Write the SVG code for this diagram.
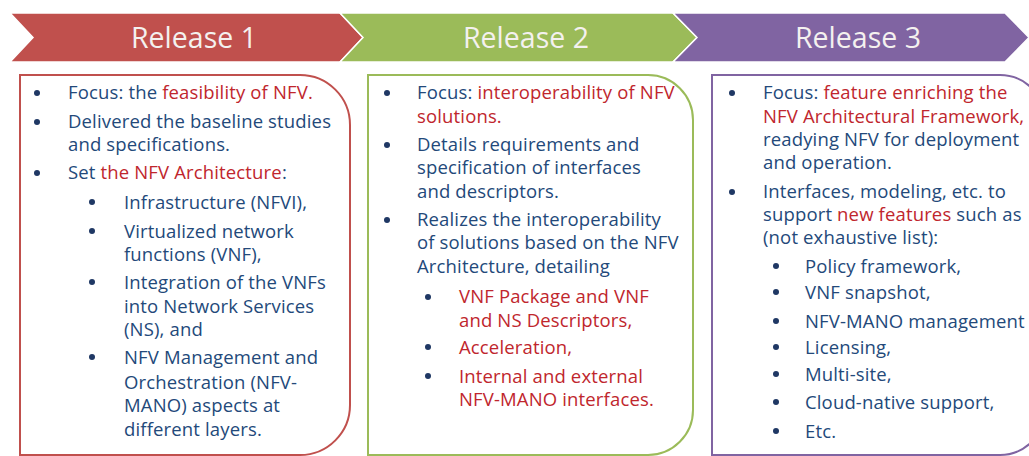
<svg xmlns="http://www.w3.org/2000/svg" width="1029" height="456" viewBox="0 0 1029 456">
  <style>
    .hdr { font-family: "Open Sans", "Liberation Sans", sans-serif; font-size: 28.5px; fill: #F4F1EF; text-anchor: middle; }
    .t { font-family: "Open Sans", "Liberation Sans", sans-serif; font-size: 18.5px; letter-spacing: 0.15px; fill: #23497A; }
    .r { fill: #C0262D; }
    .dot { fill: #1F3864; }
    .box { fill: #FFFFFF; stroke-width: 2; }
  </style>
  <defs>
    <circle id="b" r="3" class="dot"/>
  </defs>
  <rect width="1029" height="456" fill="#FFFFFF"/>

  <!-- Release 1 -->
  <g id="release1">
    <path d="M10,13 H340 L363,37.5 L340,62 H10 L33,37.5 Z" fill="#C0504D" stroke="#FFFFFF" stroke-width="1.5"/>
    <text class="hdr" x="194" y="48">Release 1</text>
    <path class="box" stroke="#C0504D" d="M20,75 H300 A50,50 0 0 1 350,125 V405 A50,50 0 0 1 300,455 H20 Z"/>
    <use href="#b" x="37" y="93"/>
    <text class="t" x="68" y="99">Focus: the <tspan class="r">feasibility of NFV.</tspan></text>
    <use href="#b" x="37" y="122"/>
    <text class="t" x="68" y="128">Delivered the baseline studies</text>
    <text class="t" x="68" y="151">and specifications.</text>
    <use href="#b" x="37" y="173"/>
    <text class="t" x="68" y="179">Set <tspan class="r">the NFV Architecture</tspan>:</text>
    <use href="#b" x="92" y="202"/>
    <text class="t" x="124" y="209">Infrastructure (NFVI),</text>
    <use href="#b" x="92" y="231"/>
    <text class="t" x="124" y="238">Virtualized network</text>
    <text class="t" x="124" y="261">functions (VNF),</text>
    <use href="#b" x="92" y="282"/>
    <text class="t" x="124" y="289">Integration of the VNFs</text>
    <text class="t" x="124" y="313">into Network Services</text>
    <text class="t" x="124" y="336">(NS), and</text>
    <use href="#b" x="92" y="357"/>
    <text class="t" x="124" y="364">NFV Management and</text>
    <text class="t" x="124" y="389">Orchestration (NFV-</text>
    <text class="t" x="124" y="412">MANO) aspects at</text>
    <text class="t" x="124" y="436">different layers.</text>
  </g>

  <!-- Release 2 -->
  <g id="release2">
    <path d="M340,13 H673 L697,37.5 L673,62 H340 L363,37.5 Z" fill="#9BBB59" stroke="#FFFFFF" stroke-width="1.5"/>
    <text class="hdr" x="526" y="48">Release 2</text>
    <path class="box" stroke="#9BBB59" d="M368,75 H648 A45,45 0 0 1 693,120 V410 A45,45 0 0 1 648,455 H368 Z"/>
    <use href="#b" x="387" y="93"/>
    <text class="t" x="417" y="99">Focus: <tspan class="r">interoperability of NFV</tspan></text>
    <text class="t r" x="417" y="123">solutions.</text>
    <use href="#b" x="387" y="145"/>
    <text class="t" x="417" y="151">Details requirements and</text>
    <text class="t" x="417" y="174">specification of interfaces</text>
    <text class="t" x="417" y="198">and descriptors.</text>
    <use href="#b" x="387" y="220"/>
    <text class="t" x="417" y="226">Realizes the interoperability</text>
    <text class="t" x="417" y="249">of solutions based on the NFV</text>
    <text class="t" x="417" y="273">Architecture, detailing</text>
    <use href="#b" x="428" y="297"/>
    <text class="t r" x="459" y="303">VNF Package and VNF</text>
    <text class="t r" x="459" y="327">and NS Descriptors,</text>
    <use href="#b" x="428" y="347"/>
    <text class="t r" x="459" y="354">Acceleration,</text>
    <use href="#b" x="428" y="376"/>
    <text class="t r" x="459" y="383">Internal and external</text>
    <text class="t r" x="459" y="406">NFV-MANO interfaces.</text>
  </g>

  <!-- Release 3 -->
  <g id="release3">
    <path d="M673,13 H1005 L1029,37.5 L1005,62 H673 L697,37.5 Z" fill="#8064A2" stroke="#FFFFFF" stroke-width="1.5"/>
    <text class="hdr" x="858" y="48">Release 3</text>
    <path class="box" stroke="#8064A2" d="M712,75 H1000 A45,45 0 0 1 1045,120 V410 A45,45 0 0 1 1000,455 H712 Z"/>
    <use href="#b" x="732" y="93"/>
    <text class="t" x="763" y="99">Focus: <tspan class="r">feature enriching the</tspan></text>
    <text class="t r" x="763" y="123">NFV Architectural Framework,</text>
    <text class="t" x="763" y="146">readying NFV for deployment</text>
    <text class="t" x="763" y="169">and operation.</text>
    <use href="#b" x="732" y="192"/>
    <text class="t" x="763" y="198">Interfaces, modeling, etc. to</text>
    <text class="t" x="763" y="221">support <tspan class="r">new features</tspan> such as</text>
    <text class="t" x="763" y="244">(not exhaustive list):</text>
    <use href="#b" x="776" y="266"/>
    <text class="t" x="805" y="273">Policy framework,</text>
    <use href="#b" x="776" y="292"/>
    <text class="t" x="805" y="299">VNF snapshot,</text>
    <use href="#b" x="776" y="321"/>
    <text class="t" x="805" y="328">NFV-MANO management</text>
    <use href="#b" x="776" y="347"/>
    <text class="t" x="805" y="354">Licensing,</text>
    <use href="#b" x="776" y="374"/>
    <text class="t" x="805" y="381">Multi-site,</text>
    <use href="#b" x="776" y="402"/>
    <text class="t" x="805" y="409">Cloud-native support,</text>
    <use href="#b" x="776" y="431"/>
    <text class="t" x="805" y="438">Etc.</text>
  </g>
</svg>
